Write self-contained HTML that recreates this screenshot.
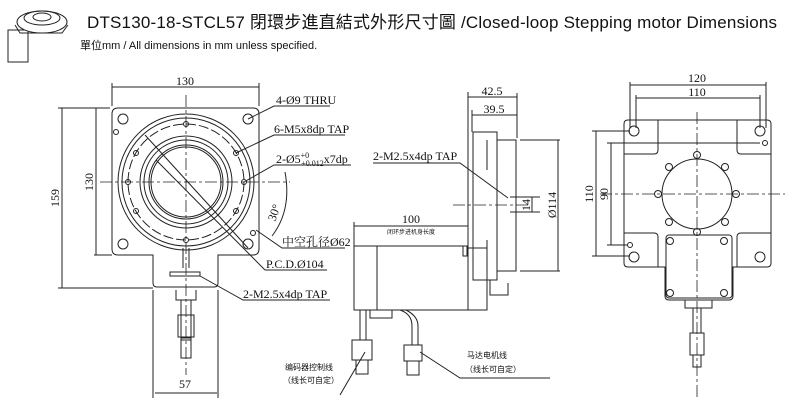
<!DOCTYPE html>
<html><head><meta charset="utf-8"><style>
html,body{margin:0;padding:0;background:#fff;width:800px;height:405px;overflow:hidden}
svg{display:block}
.t{font-family:"Liberation Serif","Noto Serif CJK SC",serif;font-size:12px;fill:#111}
.c{font-family:"Liberation Sans","Noto Sans CJK SC",sans-serif;fill:#111}
</style></head><body>
<svg width="800" height="405" viewBox="0 0 800 405" xmlns="http://www.w3.org/2000/svg">
<g fill="none" stroke="#222" stroke-width="1">
<!-- thumbnail -->
<rect x="8" y="30" width="20" height="32" fill="#fff"/>
<ellipse cx="42" cy="22" rx="25" ry="11" fill="#fff"/>
<ellipse cx="42" cy="18" rx="18" ry="7"/>
<ellipse cx="42" cy="17" rx="9" ry="4"/>
<path d="M15 25 L20 33 L62 33 L68 25"/>

<!-- LEFT VIEW -->
<path d="M118 108 H253 Q259 108 259 114 V249 Q259 255 253 255 H218 V283 Q218 287 214 287 H157 Q153 287 153 283 V255 H118 Q112 255 112 249 V114 Q112 108 118 108 Z"/>
<circle cx="186" cy="182" r="68"/>
<circle cx="186" cy="182" r="64"/>
<circle cx="186" cy="182" r="58" stroke-dasharray="10 3"/>
<circle cx="186" cy="182" r="46"/>
<circle cx="186" cy="182" r="42"/>
<circle cx="186" cy="182" r="37"/>
<circle cx="186" cy="182" r="35"/>
<circle cx="123" cy="119" r="5"/><circle cx="248" cy="119" r="5"/>
<circle cx="123" cy="244" r="5"/><circle cx="248" cy="244" r="5"/>
<circle cx="116" cy="132" r="2.5"/><circle cx="253" cy="233" r="2.5"/>
<circle cx="186" cy="124" r="2.5"/><circle cx="186" cy="240" r="2.5"/>
<circle cx="136" cy="153" r="2.5"/><circle cx="236" cy="153" r="2.5"/>
<circle cx="136" cy="211" r="2.5"/><circle cx="236" cy="211" r="2.5"/>
<circle cx="128" cy="182" r="2.5"/><circle cx="244" cy="182" r="2.5"/>
<path d="M183 248 V268 M189 248 V268 M170 272 H200 V276 H170 Z M176 290 V300 H196 V290"/>
<rect x="181" y="300" width="10" height="40" fill="#fff"/>
<rect x="178" y="315" width="16" height="22"/>
<rect x="181" y="338" width="10" height="20"/>
<g stroke-dasharray="12 3 3 3" stroke-width="0.8">
<line x1="186" y1="95" x2="186" y2="375"/><line x1="100" y1="182" x2="290" y2="182"/>
</g>
<line x1="145" y1="135" x2="248" y2="248"/>
<line x1="156" y1="160" x2="265" y2="270"/>
<!-- dims left -->
<line x1="112" y1="87" x2="259" y2="87"/><line x1="112" y1="83" x2="112" y2="106"/><line x1="259" y1="83" x2="259" y2="106"/>
<line x1="96" y1="108" x2="96" y2="255"/><line x1="94" y1="255" x2="112" y2="255"/>
<line x1="62" y1="108" x2="62" y2="288"/><line x1="58" y1="108" x2="110" y2="108"/><line x1="58" y1="288" x2="153" y2="288"/>
<line x1="155" y1="393" x2="217" y2="393"/>
<line x1="153" y1="290" x2="153" y2="398"/><line x1="218" y1="290" x2="218" y2="398"/>
<!-- leaders -->
<path d="M248 119 L274 106 H330"/><path d="M236 153 L274 135 H345"/><path d="M244 182 L274 165 H351"/>
<path d="M256 230 L282 248 H345"/><path d="M265 270 H327"/><path d="M200 276 L243 300 H330"/>
<path d="M285 172 Q292 210 272 236"/>

<!-- MIDDLE VIEW -->
<rect x="354" y="246" width="114" height="64"/>
<line x1="377" y1="246" x2="377" y2="310"/>
<rect x="463" y="246" width="4" height="10"/>
<rect x="473" y="132" width="24" height="148"/>
<rect x="468" y="248" width="19" height="62"/>
<rect x="497" y="140" width="19" height="131"/>
<path d="M487 140 V170 M487 240 V275 M490 280 V295 H508 V283"/>
<path d="M370 310 V318 H392 V310"/>
<path d="M360 310 V340 M366 310 V340"/><rect x="352" y="340" width="20" height="20"/><rect x="356" y="360" width="12" height="14"/>
<path d="M400 310 Q412 314 412 326 V345 M406 310 Q418 316 418 326 V345"/><rect x="404" y="345" width="18" height="16"/><rect x="407" y="361" width="12" height="14"/>
<g stroke-dasharray="12 3 3 3" stroke-width="0.8"><line x1="453" y1="205" x2="530" y2="205"/></g>
<line x1="468" y1="92" x2="468" y2="246"/><line x1="517" y1="93" x2="517" y2="138"/><line x1="472" y1="110" x2="472" y2="132"/>
<line x1="468" y1="97" x2="517" y2="97"/><line x1="472" y1="115" x2="517" y2="115"/>
<line x1="520" y1="140" x2="560" y2="140"/><line x1="520" y1="271" x2="560" y2="271"/><line x1="558" y1="140" x2="558" y2="271"/>
<line x1="510" y1="197" x2="540" y2="197"/><line x1="510" y1="212" x2="540" y2="212"/><line x1="532" y1="197" x2="532" y2="212"/>
<line x1="354" y1="226" x2="468" y2="226"/><line x1="354" y1="222" x2="354" y2="246"/>
<path d="M373 163 H460 L508 198"/>
<path d="M340 395 L365 352"/><path d="M420 352 L460 378 H550"/>

<!-- RIGHT VIEW -->
<path d="M628 120 H767 Q771 120 771 124 V263 Q771 267 767 267 H733 V296 Q733 300 729 300 H669 Q665 300 665 296 V267 H628 Q624 267 624 263 V124 Q624 120 628 120 Z"/>
<path d="M658 120 V150 Q658 154 654 154 H624 M737 120 V150 Q737 154 741 154 H771 M624 233 H654 Q658 233 658 237 V267 M771 233 H741 Q737 233 737 237 V267"/>
<circle cx="697" cy="194" r="35"/>
<circle cx="634" cy="131" r="5"/><circle cx="760" cy="131" r="5"/><circle cx="634" cy="257" r="5"/><circle cx="760" cy="257" r="5"/>
<circle cx="765" cy="143" r="2.5"/><circle cx="630" cy="245" r="2.5"/>
<g><circle cx="697" cy="155" r="3.5"/><circle cx="669" cy="167" r="3.5"/><circle cx="725" cy="167" r="3.5"/><circle cx="658" cy="194" r="3.5"/><circle cx="736" cy="194" r="3.5"/><circle cx="669" cy="222" r="3.5"/><circle cx="725" cy="222" r="3.5"/><circle cx="697" cy="232" r="3.5"/></g>
<rect x="666" y="235" width="66" height="63" rx="3"/>
<circle cx="670" cy="241" r="3.5"/><circle cx="724" cy="241" r="3.5"/><circle cx="670" cy="293" r="3.5"/><circle cx="724" cy="293" r="3.5"/>
<path d="M685 300 V308 H712 V300"/><rect x="693" y="308" width="8" height="25"/><rect x="690" y="333" width="14" height="22"/><rect x="693" y="355" width="8" height="12"/>
<g stroke-dasharray="12 3 3 3" stroke-width="0.8"><line x1="697" y1="112" x2="697" y2="400"/><line x1="600" y1="194" x2="785" y2="194"/></g>
<line x1="630" y1="85" x2="766" y2="85"/><line x1="630" y1="82" x2="630" y2="128"/><line x1="766" y1="82" x2="766" y2="128"/>
<line x1="636" y1="98" x2="760" y2="98"/><line x1="636" y1="95" x2="636" y2="128"/><line x1="760" y1="95" x2="760" y2="128"/>
<line x1="596" y1="131" x2="596" y2="256"/><line x1="592" y1="131" x2="630" y2="131"/><line x1="592" y1="256" x2="630" y2="256"/>
<line x1="611" y1="143" x2="611" y2="245"/><line x1="607" y1="143" x2="760" y2="143"/><line x1="607" y1="245" x2="627" y2="245"/>
</g>

<!-- TEXT -->
<text x="87" y="28" class="c" font-size="17" textLength="690" lengthAdjust="spacing">DTS130-18-STCL57 閉環步進直結式外形尺寸圖  /Closed-loop Stepping motor Dimensions</text>
<text x="80" y="49" class="c" font-size="11">單位mm / All dimensions in mm unless specified.</text>
<text x="185" y="85" class="t" text-anchor="middle">130</text>
<text x="276" y="104" class="t">4-Ø9 THRU</text>
<text x="274" y="133" class="t">6-M5x8dp TAP</text>
<text x="276" y="163" class="t">2-Ø5<tspan font-size="8" dy="-5">+0</tspan><tspan font-size="8" dx="-8" dy="8">+0.012</tspan><tspan dy="-3">x7dp</tspan></text>
<text x="282" y="246" class="t">中空孔径Ø62</text>
<text x="266" y="268" class="t">P.C.D.Ø104</text>
<text x="243" y="298" class="t">2-M2.5x4dp TAP</text>
<text x="185" y="388" class="t" text-anchor="middle">57</text>
<text transform="translate(93,182) rotate(-90)" class="t" text-anchor="middle">130</text>
<text transform="translate(59,198) rotate(-90)" class="t" text-anchor="middle">159</text>
<text transform="translate(278,214) rotate(-70)" class="t" text-anchor="middle">30°</text>
<text x="492" y="95" class="t" text-anchor="middle">42.5</text>
<text x="494" y="113" class="t" text-anchor="middle">39.5</text>
<text x="373" y="160" class="t">2-M2.5x4dp TAP</text>
<text x="411" y="223" class="t" text-anchor="middle">100</text>
<text x="411" y="234" class="c" font-size="6" text-anchor="middle">闭环步进机身长度</text>
<text transform="translate(530,205) rotate(-90)" class="t" text-anchor="middle">14</text>
<text transform="translate(556,205) rotate(-90)" class="t" text-anchor="middle">Ø114</text>
<text x="285" y="370" class="c" font-size="8">编码器控制线</text>
<text x="283" y="383" class="c" font-size="8">（线长可自定）</text>
<text x="467" y="358" class="c" font-size="8">马达电机线</text>
<text x="465" y="372" class="c" font-size="8">（线长可自定）</text>
<text x="697" y="82" class="t" text-anchor="middle">120</text>
<text x="697" y="96" class="t" text-anchor="middle">110</text>
<text transform="translate(593,194) rotate(-90)" class="t" text-anchor="middle">110</text>
<text transform="translate(608,194) rotate(-90)" class="t" text-anchor="middle">90</text>
</svg>
</body></html>
